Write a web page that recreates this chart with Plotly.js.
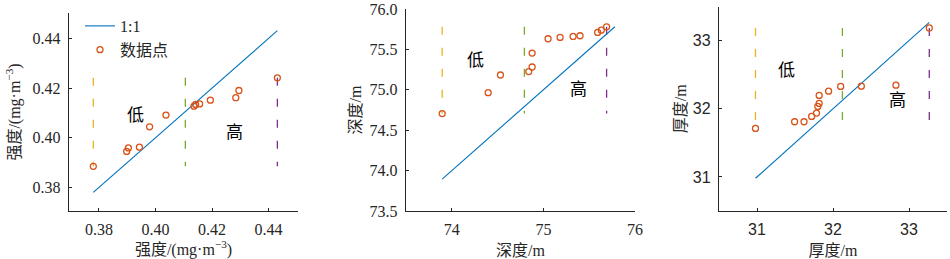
<!DOCTYPE html>
<html>
<head>
<meta charset="utf-8">
<script src="https://cdn.plot.ly/plotly-3.0.1.min.js"></script>
<style>html,body{margin:0;padding:0;background:#fff;}#chart{width:950px;height:259px;}</style>
</head>
<body>
<div id="chart"></div>
<script>
// Panel 1: 强度
const strengthX = [0.3780, 0.3898, 0.3904, 0.3943, 0.3979, 0.4037, 0.4136, 0.4142, 0.4156, 0.4194, 0.4284, 0.4295, 0.4431];
const strengthY = [0.3885, 0.3945, 0.3959, 0.3962, 0.4044, 0.4091, 0.4127, 0.4134, 0.4136, 0.4151, 0.4161, 0.4190, 0.4241];
// Panel 2: 深度
const depthX = [73.895, 74.397, 74.531, 74.840, 74.877, 74.877, 75.051, 75.182, 75.324, 75.400, 75.592, 75.632, 75.690];
const depthY = [74.706, 74.965, 75.183, 75.225, 75.282, 75.455, 75.632, 75.648, 75.660, 75.669, 75.710, 75.738, 75.780];
// Panel 3: 厚度
const thickX = [30.98, 31.495, 31.619, 31.719, 31.783, 31.800, 31.818, 31.818, 31.942, 32.101, 32.373, 32.828, 33.267];
const thickY = [31.712, 31.809, 31.809, 31.888, 31.936, 32.034, 32.078, 32.195, 32.258, 32.327, 32.331, 32.346, 33.185];

const strengthTicks = [0.38, 0.40, 0.42, 0.44];
const depthXTicks = [74, 75, 76];
const depthYTicks = [73.5, 74.0, 74.5, 75.0, 75.5, 76.0];
const thickTicks = [31, 32, 33];

const axisTitles = ['强度/(mg·m<sup>−3</sup>)', '深度/m', '厚度/m'];
const legendNames = ['1:1', '数据点'];
const zoneLabels = ['低', '高'];
// label positions (data units) for 低 / 高 in each panel
const lowLabelPos = [[0.3928, 0.4091], [74.258, 75.364], [31.383, 32.555]];
const highLabelPos = [[0.4279, 0.4020], [75.378, 75.002], [32.845, 32.127]];

const BLUE = '#0072BD', ORANGE = '#D95319', YEL = '#EDB120', GRN = '#77AC30', PUR = '#7E2F8E';
const AX = '#262626';
const SERIF = 'Liberation Serif, "Noto Sans CJK SC", serif';
const SANS = 'Liberation Sans, "Noto Sans CJK SC", sans-serif';

const panels = [
  {x: strengthX, y: strengthY, xa: 'x', ya: 'y'},
  {x: depthX, y: depthY, xa: 'x2', ya: 'y2'},
  {x: thickX, y: thickY, xa: 'x3', ya: 'y3'}
];

const traces = [];
const annotations = [];
panels.forEach((p, i) => {
  const all = p.x.concat(p.y);
  const lo = Math.min(...all), hi = Math.max(...all);
  const xmin = Math.min(...p.x), xmax = Math.max(...p.x);
  const ymin = Math.min(...p.y), ymax = Math.max(...p.y);
  const xmid = (xmin + xmax) / 2;
  [[xmin, YEL], [xmid, GRN], [xmax, PUR]].forEach(([xv, c]) => {
    traces.push({x: [xv, xv], y: [ymax, ymin], xaxis: p.xa, yaxis: p.ya, mode: 'lines',
      line: {color: c, width: 1.3, dash: '8px,13px'}, showlegend: false, hoverinfo: 'skip'});
  });
  traces.push({x: [lo, hi], y: [lo, hi], xaxis: p.xa, yaxis: p.ya, mode: 'lines', name: legendNames[0],
    line: {color: BLUE, width: 1.1}, showlegend: i === 0});
  traces.push({x: p.x, y: p.y, xaxis: p.xa, yaxis: p.ya, mode: 'markers', name: legendNames[1],
    marker: {symbol: 'circle-open', size: 6, color: ORANGE, line: {width: 1.3, color: ORANGE}}, showlegend: i === 0});
  const suf = i === 0 ? '' : String(i + 1);
  annotations.push({x: lowLabelPos[i][0], y: lowLabelPos[i][1], xref: 'x' + suf, yref: 'y' + suf, text: zoneLabels[0],
    showarrow: false, font: {family: SERIF, size: 17, color: '#000'}});
  annotations.push({x: highLabelPos[i][0], y: highLabelPos[i][1], xref: 'x' + suf, yref: 'y' + suf, text: zoneLabels[1],
    showarrow: false, font: {family: SERIF, size: 17, color: '#000'}});
});

function ax(domain, range, tickvals, fmt, title, standoff, tickFam, anchor) {
  return {
    domain: domain, range: range, tickvals: tickvals, tickformat: fmt, anchor: anchor,
    showline: true, linecolor: AX, linewidth: 1.2, ticks: 'inside', ticklen: 3, tickcolor: AX, tickwidth: 1,
    showgrid: false, zeroline: false, mirror: false, ticklabelstandoff: 4,
    tickfont: {family: tickFam, size: 16, color: AX},
    title: {text: title, font: {family: SERIF, size: 16, color: AX}, standoff: standoff}
  };
}

const H = 259, W = 950;
const layout = {
  width: W, height: H, margin: {l: 0, r: 0, t: 0, b: 0},
  paper_bgcolor: '#fff', plot_bgcolor: '#fff',
  showlegend: true,
  legend: {x: 80 / W, y: 1 - 9 / H, xanchor: 'left', yanchor: 'top', bgcolor: 'rgba(0,0,0,0)',
    font: {family: SERIF, size: 16, color: AX}, tracegroupgap: 0},
  xaxis: ax([69 / W, 298 / W], [0.3694, 0.4504], strengthTicks, '.2f', axisTitles[0], 8, SERIF, 'y'),
  yaxis: ax([1 - 211 / H, 1 - 13 / H], [0.3705, 0.4502], strengthTicks, '.2f', axisTitles[0], 8, SERIF, 'x'),
  xaxis2: ax([406 / W, 635 / W], [73.5, 76.0], depthXTicks, 'd', axisTitles[1], 8, SERIF, 'y2'),
  yaxis2: ax([1 - 211 / H, 1 - 9 / H], [73.5, 76.0], depthYTicks, '.1f', axisTitles[1], 4, SERIF, 'x2'),
  xaxis3: ax([719 / W, 947 / W], [30.5, 33.5], thickTicks, 'd', axisTitles[2], 8, SANS, 'y3'),
  yaxis3: ax([1 - 211 / H, 1 - 6.5 / H], [30.5, 33.5], thickTicks, 'd', axisTitles[2], 2, SANS, 'x3'),
  annotations: annotations
};

Plotly.newPlot('chart', traces, layout, {displayModeBar: false, staticPlot: true});
</script>
</body>
</html>
